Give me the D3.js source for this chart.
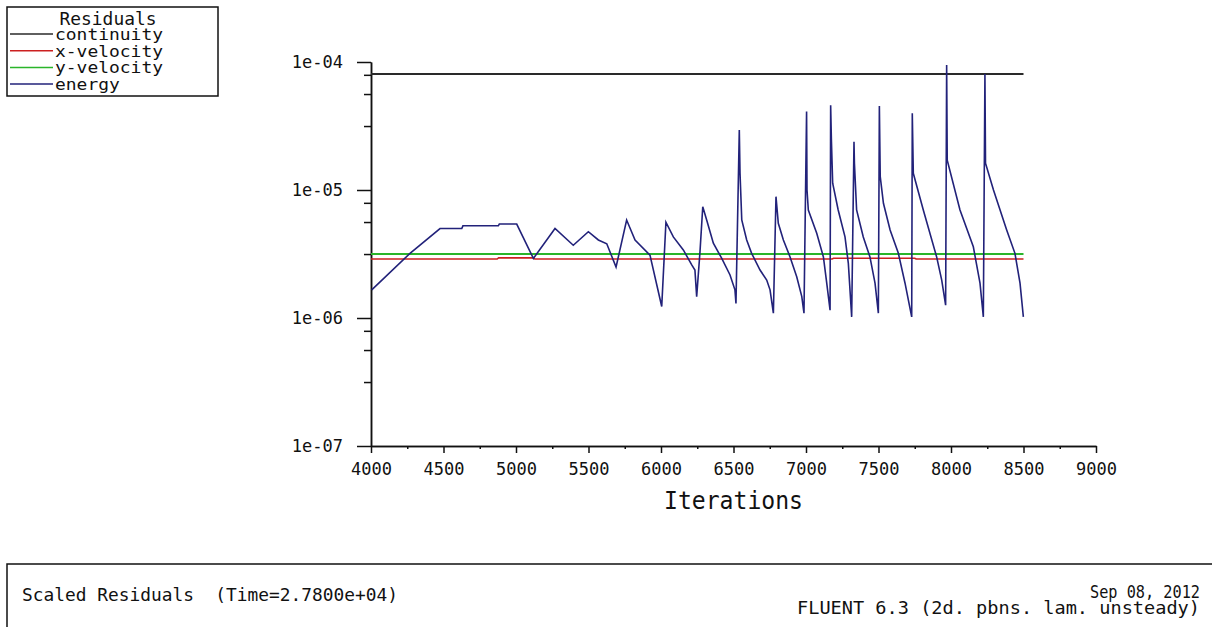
<!DOCTYPE html>
<html>
<head>
  <meta charset="utf-8">
  <title>Scaled Residuals</title>
  <script src="https://cdnjs.cloudflare.com/ajax/libs/d3/7.8.5/d3.min.js"></script>
  <style>
    body { margin: 0; background: #fff; }
    text { font-family: "DejaVu Sans Mono", monospace; white-space: pre; fill: #111; }
  </style>
</head>
<body>
  <script>
    // series
    const seriesNames = ['continuity', 'x-velocity', 'y-velocity', 'energy']
    const seriesColors = ['#2a2a2a', '#cc2020', '#2ab52a', '#22227a']

    const continuityIter = [4000, 8500]
    const continuityVal = [8.05e-5, 8.05e-5]

    const xVelIter = [4000, 4870, 4880, 5120, 5130, 7180, 7190, 7750, 7760, 8500]
    const xVelVal = [2.89e-6, 2.89e-6, 2.95e-6, 2.95e-6, 2.89e-6, 2.89e-6, 2.93e-6, 2.93e-6, 2.89e-6, 2.89e-6]

    const yVelIter = [4000, 8500]
    const yVelVal = [3.16e-6, 3.16e-6]

    const energyIter = [
      4005, 4269, 4476, 4626, 4634, 4878, 4885, 5005, 5120, 5269, 5395, 5499, 5568, 5626, 5690, 5763, 5821, 5924, 6005,
      6034, 6085, 6154, 6212, 6234, 6246, 6269, 6288, 6315, 6361, 6419, 6476, 6510, 6517,
      6540, 6545, 6557, 6591, 6625, 6683, 6729, 6752, 6775,
      6793, 6809, 6844, 6890, 6936, 6971, 6986,
      7004, 7007, 7016, 7074, 7120, 7143, 7166,
      7170, 7175, 7184, 7222, 7269, 7292, 7315,
      7331, 7334, 7349, 7395, 7441, 7476, 7499,
      7506, 7512, 7534, 7580, 7637, 7683, 7729,
      7733, 7740, 7809, 7901, 7936, 7963,
      7970, 7974, 8062, 8154, 8200, 8223,
      8234, 8238, 8293, 8384, 8441, 8476, 8499
    ]
    const energyVal = [
      1.66e-6, 3.2e-6, 5.0e-6, 5.0e-6, 5.25e-6, 5.25e-6, 5.42e-6, 5.42e-6, 2.92e-6, 5.0e-6, 3.7e-6, 4.72e-6, 4.07e-6, 3.8e-6, 2.5e-6, 5.83e-6, 4.07e-6, 3.1e-6, 1.23e-6,
      5.6e-6, 4.3e-6, 3.4e-6, 2.6e-6, 2.37e-6, 1.47e-6, 3.3e-6, 7.4e-6, 5.83e-6, 3.84e-6, 2.92e-6, 2.17e-6, 1.66e-6, 1.3e-6,
      2.94e-5, 1.35e-5, 5.83e-6, 4.07e-6, 3.2e-6, 2.37e-6, 1.98e-6, 1.66e-6, 1.09e-6,
      8.87e-6, 5.5e-6, 4.07e-6, 3.0e-6, 2.1e-6, 1.47e-6, 1.09e-6,
      4.1e-5, 1.0e-5, 6.98e-6, 4.6e-6, 3.0e-6, 1.87e-6, 1.15e-6,
      4.6e-5, 2.5e-5, 1.13e-5, 6.98e-6, 4.3e-6, 2.67e-6, 1.02e-6,
      2.38e-5, 1.62e-5, 6.98e-6, 4.3e-6, 3.0e-6, 1.87e-6, 1.09e-6,
      4.53e-5, 1.27e-5, 7.87e-6, 4.87e-6, 3.2e-6, 1.87e-6, 1.02e-6,
      3.98e-5, 1.35e-5, 6.98e-6, 3.0e-6, 1.98e-6, 1.26e-6,
      9.48e-5, 1.71e-5, 6.98e-6, 3.6e-6, 1.87e-6, 1.02e-6,
      8.05e-5, 1.62e-5, 1.0e-5, 4.87e-6, 3.2e-6, 1.87e-6, 1.02e-6
    ]

    const xTicks = [4000, 4500, 5000, 5500, 6000, 6500, 7000, 7500, 8000, 8500, 9000]
    const xMinorTicks = [4250, 4750, 5250, 5750, 6250, 6750, 7250, 7750, 8250, 8750]
    const yTicks = [1e-4, 1e-5, 1e-6, 1e-7]
    const yTickLabels = ['1e-04', '1e-05', '1e-06', '1e-07']
    const yMinorTicks = [7.94e-5, 5.62e-5, 3.16e-5, 7.94e-6, 5.62e-6, 3.16e-6, 7.94e-7, 5.62e-7, 3.16e-7]

    const width = 1212, height = 627
    const plot = { left: 371, right: 1096, top: 62, bottom: 446 }

    const svg = d3.select('body')
      .append('svg')
      .attr('width', width)
      .attr('height', height)

    const xScale = d3.scaleLinear().domain([4000, 9000]).range([plot.left, plot.right])
    const yScale = d3.scaleLog().domain([1e-7, 1e-4]).range([plot.bottom, plot.top])

    // axes
    const styleAxis = g => {
      g.select('.domain').attr('stroke', '#111').attr('stroke-width', 1.5)
      g.selectAll('line').attr('stroke', '#111').attr('stroke-width', 1.5)
      g.selectAll('text')
        .attr('font-family', '"DejaVu Sans Mono", monospace')
        .attr('font-size', 17)
        .attr('fill', '#111')
    }

    svg.append('g')
      .attr('transform', `translate(0,${plot.bottom})`)
      .call(d3.axisBottom(xScale).tickValues(xMinorTicks).tickSize(3).tickSizeOuter(0).tickFormat(''))
      .call(styleAxis)
    svg.append('g')
      .attr('transform', `translate(0,${plot.bottom})`)
      .call(d3.axisBottom(xScale).tickValues(xTicks).tickSize(7).tickSizeOuter(0).tickPadding(10).tickFormat(d3.format('d')))
      .call(styleAxis)

    svg.append('g')
      .attr('transform', `translate(${plot.left},0)`)
      .call(d3.axisLeft(yScale).tickValues(yMinorTicks).tickSize(7).tickSizeOuter(0).tickFormat(''))
      .call(styleAxis)
    svg.append('g')
      .attr('transform', `translate(${plot.left},0)`)
      .call(d3.axisLeft(yScale).tickValues(yTicks).tickSize(14).tickSizeOuter(0).tickPadding(14)
        .tickFormat((d, i) => yTickLabels[i]))
      .call(styleAxis)

    svg.append('text')
      .attr('x', (plot.left + plot.right) / 2)
      .attr('y', 509)
      .attr('text-anchor', 'middle')
      .attr('font-size', 25)
      .attr('textLength', 139)
      .attr('lengthAdjust', 'spacingAndGlyphs')
      .text('Iterations')

    // lines
    const line = d3.line()
      .x(d => xScale(d[0]))
      .y(d => yScale(d[1]))

    const series = [
      [continuityIter, continuityVal, 2],
      [xVelIter, xVelVal, 1.6],
      [yVelIter, yVelVal, 2],
      [energyIter, energyVal, 1.6]
    ]

    svg.selectAll('path.series')
      .data(series)
      .enter()
      .append('path')
      .attr('class', 'series')
      .attr('d', d => line(d3.zip(d[0], d[1])))
      .attr('fill', 'none')
      .attr('stroke', (d, i) => seriesColors[i])
      .attr('stroke-width', d => d[2])

    // legend
    const legend = svg.append('g')
    legend.append('rect')
      .attr('x', 7).attr('y', 7).attr('width', 211).attr('height', 89)
      .attr('fill', 'none').attr('stroke', '#111').attr('stroke-width', 1.5)
    legend.append('text')
      .attr('x', 108).attr('y', 25)
      .attr('text-anchor', 'middle')
      .attr('font-size', 17)
      .attr('textLength', 97)
      .attr('lengthAdjust', 'spacingAndGlyphs')
      .text('Residuals')

    const rows = legend.selectAll('g.row')
      .data(seriesNames)
      .enter()
      .append('g')
      .attr('class', 'row')
      .attr('transform', (d, i) => `translate(0,${34 + i * 16.7})`)
    rows.append('line')
      .attr('x1', 10).attr('x2', 53).attr('y1', 0).attr('y2', 0)
      .attr('stroke', (d, i) => seriesColors[i])
      .attr('stroke-width', 1.5)
    rows.append('text')
      .attr('x', 55).attr('y', 6)
      .attr('font-size', 16)
      .attr('textLength', d => d.length * 10.8)
      .attr('lengthAdjust', 'spacingAndGlyphs')
      .text(d => d)

    // footer box
    svg.append('rect')
      .attr('x', 7).attr('y', 564).attr('width', 1220).attr('height', 80)
      .attr('fill', 'none').attr('stroke', '#111').attr('stroke-width', 1.5)
    svg.append('text')
      .attr('x', 22).attr('y', 601)
      .attr('font-size', 18)
      .attr('textLength', 376)
      .attr('lengthAdjust', 'spacingAndGlyphs')
      .text('Scaled Residuals  (Time=2.7800e+04)')
    svg.append('text')
      .attr('x', 1200).attr('y', 598)
      .attr('text-anchor', 'end')
      .attr('font-size', 17)
      .attr('textLength', 110)
      .attr('lengthAdjust', 'spacingAndGlyphs')
      .text('Sep 08, 2012')
    svg.append('text')
      .attr('x', 1200).attr('y', 614)
      .attr('text-anchor', 'end')
      .attr('font-size', 17)
      .attr('textLength', 403)
      .attr('lengthAdjust', 'spacingAndGlyphs')
      .text('FLUENT 6.3 (2d. pbns. lam. unsteady)')
  </script>
</body>
</html>
